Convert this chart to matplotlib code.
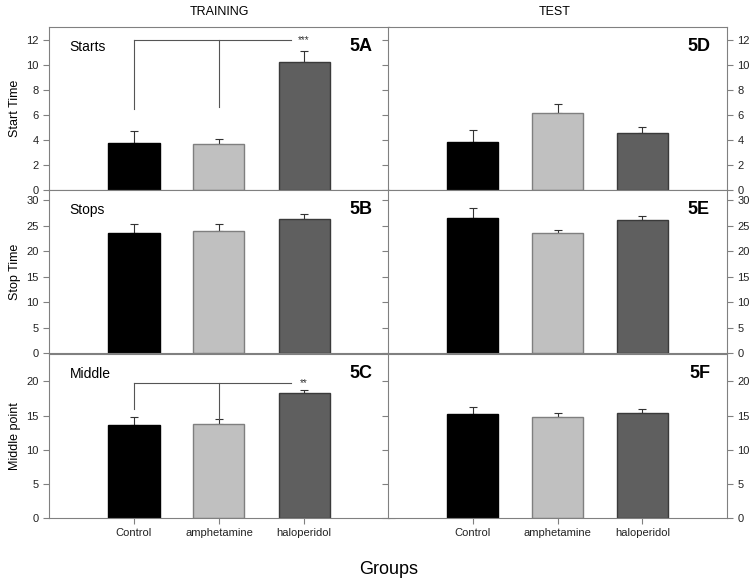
import matplotlib
matplotlib.use("Agg")
import matplotlib.pyplot as plt
import numpy as np

groups = ["Control", "amphetamine", "haloperidol"]
colors = ["#000000", "#c0c0c0", "#5f5f5f"]
edges = ["#000000", "#7f7f7f", "#3a3a3a"]

# training (left column)
start_train = [3.73, 3.63, 10.24]
start_train_err = [0.95, 0.47, 0.82]
stop_train = [23.6, 23.9, 26.3]
stop_train_err = [1.7, 1.4, 0.9]
mid_train = [13.6, 13.8, 18.3]
mid_train_err = [1.25, 0.65, 0.5]

# test (right column)
start_test = [3.86, 6.17, 4.58]
start_test_err = [0.9, 0.71, 0.47]
stop_test = [26.6, 23.5, 26.1]
stop_test_err = [1.8, 0.7, 0.8]
mid_test = [15.2, 14.85, 15.3]
mid_test_err = [1.05, 0.45, 0.6]

row_labels = ["Start Time", "Stop Time", "Middle point"]
row_names = ["Starts", "Stops", "Middle"]
row_ylim = [13, 32, 24]
row_ticks = [np.arange(0, 13, 2), np.arange(0, 31, 5), np.arange(0, 21, 5)]
panel_tags = [["5A", "5D"], ["5B", "5E"], ["5C", "5F"]]

data = [
    [(start_train, start_train_err), (start_test, start_test_err)],
    [(stop_train, stop_train_err), (stop_test, stop_test_err)],
    [(mid_train, mid_train_err), (mid_test, mid_test_err)],
]

fig = plt.figure(figsize=(7.54, 5.87), dpi=100)
plt.rcParams.update({'font.family': 'Liberation Sans', 'font.size': 8})

W, H = 754, 587
lefts = [49, 388]
widths = [340, 339]
tops = [27, 190, 354]
heights = [163, 163, 164]
spine_col = "#808080"
x = np.arange(1, 4)

axes = [[None, None] for _ in range(3)]
for r in range(3):
    for c in range(2):
        ax = fig.add_axes([lefts[c] / W, 1 - (tops[r] + heights[r]) / H,
                           widths[c] / W, heights[r] / H])
        axes[r][c] = ax
        vals, errs = data[r][c]
        ax.bar(x, vals, width=0.6, color=colors, edgecolor=edges, linewidth=1, zorder=2)
        ax.errorbar(x, vals, yerr=[np.zeros(3), errs], fmt='none', ecolor="#333333",
                    elinewidth=0.8, capsize=3, capthick=0.8, zorder=1)
        ax.set_xlim(0, 4)
        ax.set_ylim(0, row_ylim[r])
        ax.set_yticks(row_ticks[r])
        for s in ax.spines.values():
            s.set_color(spine_col)
        ax.tick_params(colors=spine_col, labelcolor="#222222", length=4, width=0.8)
        ax.set_xticks(x)
        if r == 2:
            ax.set_xticklabels(groups, fontsize=8)
        else:
            ax.set_xticklabels([])
        if c == 0:
            ax.tick_params(axis='y', right=True, left=True, labelleft=True, labelright=False)
            ax.set_ylabel(row_labels[r], fontsize=9, labelpad=4)
            ax.text(0.06, 0.88, row_names[r], transform=ax.transAxes, fontsize=10, va='center')
        else:
            ax.tick_params(axis='y', left=True, right=True, labelleft=False, labelright=True)
        ax.text(0.95, 0.88, panel_tags[r][c], transform=ax.transAxes, fontsize=13,
                fontweight='bold', ha='right', va='center')

# significance brackets
line_kw = dict(color="#555555", linewidth=0.8)
ax = axes[0][0]
ax.plot([1, 2.85], [11.95, 11.95], **line_kw)
ax.plot([1, 1], [6.5, 11.95], **line_kw)
ax.plot([2, 2], [6.6, 11.95], **line_kw)
ax.text(3, 11.95, "***", ha='center', va='center', fontsize=7, color="#333333")

ax = axes[2][0]
ax.plot([1, 2.85], [19.8, 19.8], **line_kw)
ax.plot([1, 1], [16.0, 19.8], **line_kw)
ax.plot([2, 2], [14.45, 19.8], **line_kw)
ax.text(3, 19.8, "**", ha='center', va='center', fontsize=7, color="#333333")

fig.text(219 / W, 1 - 12 / H, "TRAINING", ha='center', va='center', fontsize=9)
fig.text(555 / W, 1 - 12 / H, "TEST", ha='center', va='center', fontsize=9)
fig.text(389 / W, 1 - 570 / H, "Groups", ha='center', va='center', fontsize=13)

fig.savefig("out.png", dpi=100)
